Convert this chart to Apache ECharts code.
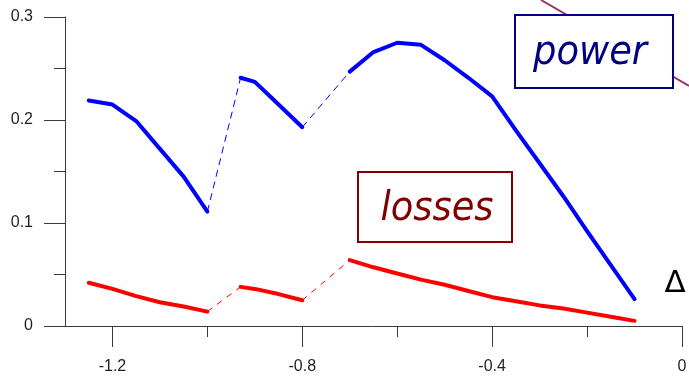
<!DOCTYPE html>
<html>
<head>
<meta charset="utf-8">
<script src="https://cdn.jsdelivr.net/npm/echarts@6/dist/echarts.min.js"></script>
<style>
html,body{margin:0;padding:0;background:#fff;}
#chart{width:689px;height:376px;}
</style>
</head>
<body>
<div id="chart"></div>
<script>
// ---- data ----
const xSeg1 = [-1.25, -1.2, -1.15, -1.1, -1.05, -1.0];
const xSeg2 = [-0.93, -0.9, -0.85, -0.8];
const xSeg3 = [-0.7, -0.65, -0.6, -0.55, -0.5, -0.45, -0.4, -0.35, -0.3, -0.25, -0.2, -0.15, -0.1];

const powerSeg1 = [0.219, 0.215, 0.199, 0.172, 0.145, 0.111];
const powerSeg2 = [0.241, 0.237, 0.215, 0.193];
const powerSeg3 = [0.247, 0.266, 0.275, 0.273, 0.258, 0.241, 0.223, 0.190, 0.158, 0.126, 0.092, 0.059, 0.026];

const lossSeg1 = [0.042, 0.036, 0.029, 0.023, 0.019, 0.014];
const lossSeg2 = [0.038, 0.036, 0.031, 0.025];
const lossSeg3 = [0.064, 0.057, 0.051, 0.045, 0.040, 0.034, 0.028, 0.024, 0.020, 0.017, 0.013, 0.009, 0.005];

const xMajorTicks = [-1.2, -0.8, -0.4, 0];
const xMinorTicks = [-1.0, -0.6, -0.2];

const annotations = ['power', 'losses', 'Δ'];

// ---- build series ----
function pairs(xs, ys) { return xs.map((x, i) => [x, ys[i]]); }
function solid(name, xs, ys, color) {
  return {
    name, type: 'line', data: pairs(xs, ys), showSymbol: false, symbol: 'none',
    lineStyle: { color, width: 4, cap: 'round', join: 'round' }, z: 3, animation: false
  };
}
function dashed(name, xs1, ys1, xs2, ys2, color, dash) {
  return {
    name, type: 'line', showSymbol: false, symbol: 'none', animation: false, z: 2,
    data: [[xs1[xs1.length - 1], ys1[ys1.length - 1]], [xs2[0], ys2[0]]],
    lineStyle: { color, width: 1, type: dash }
  };
}

const blue = '#0000ff', red = '#ff0000';
const series = [
  solid('power', xSeg1, powerSeg1, blue),
  solid('power', xSeg2, powerSeg2, blue),
  solid('power', xSeg3, powerSeg3, blue),
  dashed('power', xSeg1, powerSeg1, xSeg2, powerSeg2, blue, [7, 5]),
  dashed('power', xSeg2, powerSeg2, xSeg3, powerSeg3, blue, [7, 5]),
  solid('losses', xSeg1, lossSeg1, red),
  solid('losses', xSeg2, lossSeg2, red),
  solid('losses', xSeg3, lossSeg3, red),
  dashed('losses', xSeg1, lossSeg1, xSeg2, lossSeg2, red, [6, 6]),
  dashed('losses', xSeg2, lossSeg2, xSeg3, lossSeg3, red, [6, 6])
];

const axisColor = '#3a3a3a';
const labelFont = { fontFamily: 'Liberation Sans, Arial, sans-serif', fontSize: 16, color: '#1e1e2a' };

const chart = echarts.init(document.getElementById('chart'), null, { renderer: 'canvas' });
chart.setOption({
  animation: false,
  backgroundColor: '#ffffff',
  grid: { left: 65, right: 7, top: 17, bottom: 50, containLabel: false, outerBoundsMode: 'none' },
  xAxis: [
    {
      type: 'value', min: -1.3, max: 0, position: 'bottom',
      axisLine: { show: true, onZero: false, lineStyle: { color: axisColor, width: 1 } },
      axisTick: { show: true, length: 21, customValues: xMajorTicks, lineStyle: { color: axisColor, width: 1 } },
      axisLabel: { show: true, customValues: xMajorTicks, margin: 33, ...labelFont },
      splitLine: { show: false }
    },
    {
      type: 'value', min: -1.3, max: 0, position: 'bottom', offset: 0,
      axisLine: { show: false, onZero: false },
      axisTick: { show: true, length: 11, customValues: xMinorTicks, lineStyle: { color: axisColor, width: 1 } },
      axisLabel: { show: false },
      splitLine: { show: false }
    }
  ],
  yAxis: {
    type: 'value', min: 0, max: 0.3, interval: 0.1, position: 'left',
    axisLine: { show: true, onZero: false, lineStyle: { color: axisColor, width: 1 } },
    axisTick: { show: true, length: 21, lineStyle: { color: axisColor, width: 1 } },
    minorTick: { show: true, splitNumber: 2, length: 11, lineStyle: { color: axisColor, width: 1 } },
    axisLabel: { show: true, margin: 32, ...labelFont, formatter: v => String(Math.round(v * 10) / 10) },
    splitLine: { show: false },
    minorSplitLine: { show: false }
  },
  series,
  graphic: [
    { type: 'line', shape: { x1: 541, y1: 0, x2: 689, y2: 86 }, style: { stroke: '#993366', lineWidth: 2 }, z: 10 },
    { type: 'rect', shape: { x: 515, y: 15, width: 158, height: 73 }, style: { fill: '#ffffff', stroke: '#000080', lineWidth: 2 }, z: 11 },
    { type: 'text', x: 590, y: 53, style: { text: annotations[0], fill: '#000080', fontFamily: 'DejaVu Sans Condensed', fontStyle: 'italic', fontSize: 41, align: 'center', verticalAlign: 'middle' }, z: 12 },
    { type: 'rect', shape: { x: 358, y: 172, width: 154, height: 70 }, style: { fill: '#ffffff', stroke: '#800000', lineWidth: 2 }, z: 11 },
    { type: 'text', x: 437, y: 209, style: { text: annotations[1], fill: '#800000', fontFamily: 'DejaVu Sans Condensed', fontStyle: 'italic', fontSize: 41, align: 'center', verticalAlign: 'middle' }, z: 12 },
    { type: 'text', x: 675, y: 284, style: { text: annotations[2], fill: '#000000', fontFamily: 'DejaVu Sans', fontSize: 31, align: 'center', verticalAlign: 'middle' }, z: 12 }
  ]
});
</script>
</body>
</html>
